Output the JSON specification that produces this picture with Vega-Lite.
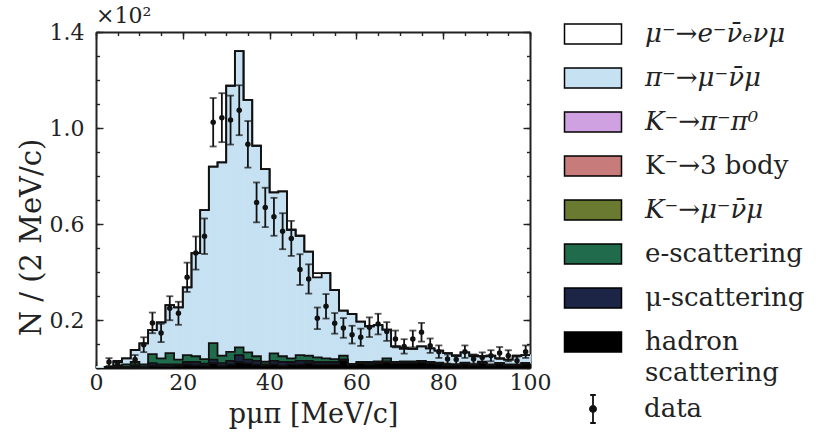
{
  "$schema": "https://vega.github.io/schema/vega-lite/v6.json",
  "width": 434,
  "height": 336,
  "autosize": "none",
  "padding": {"left": 96, "top": 32, "right": 300, "bottom": 78},
  "background": "white",
  "title": {"text": "×10²", "anchor": "start", "frame": "group", "fontSize": 22, "fontWeight": "normal", "offset": -7, "color": "#222", "font": "DejaVu Serif"},
  "config": {
    "font": "DejaVu Serif",
    "view": {"stroke": null},
    "axis": {"grid": false, "zindex": 1, "domainColor": "#222", "domainWidth": 2, "tickColor": "#222", "tickWidth": 1.4,
      "labelFont": "DejaVu Serif", "labelFontSize": 22, "labelColor": "#222", "labelFlush": false, "labelOverlap": false,
      "titleFont": "DejaVu Serif", "titleFontSize": 27, "titleFontWeight": "normal", "titleColor": "#222"},
    "legend": {"labelFont": "DejaVu Serif", "labelColor": "#222", "padding": 0}
  },
  "datasets": {
    "comps": [
      {"key": "H", "comp": "hadron scattering", "k": 1},
      {"key": "M", "comp": "μ-scattering", "k": 2},
      {"key": "E", "comp": "e-scattering", "k": 3},
      {"key": "P", "comp": "π⁻→μ⁻ν̄μ", "k": 4},
      {"key": "W", "comp": "μ⁻→e⁻ν̄ₑνμ", "k": 5}
    ],
    "hist": [
      {"x0": 0, "x1": 2, "c": 1, "H": 0.2, "M": 0, "E": 0.1, "P": 0.2, "W": 0, "d": null, "e": null},
      {"x0": 2, "x1": 4, "c": 3, "H": 0.2, "M": 0.1, "E": 0.2, "P": 0, "W": 0, "d": 2.5, "e": 1.6},
      {"x0": 4, "x1": 6, "c": 5, "H": 0.3, "M": 0.2, "E": 0.5, "P": 1.5, "W": 0.5, "d": 1.5, "e": 1.2},
      {"x0": 6, "x1": 8, "c": 7, "H": 0.3, "M": 0.2, "E": 1.0, "P": 2.5, "W": 0, "d": null, "e": null},
      {"x0": 8, "x1": 10, "c": 9, "H": 0.5, "M": 0.5, "E": 1.5, "P": 5.0, "W": 0, "d": 3.5, "e": 1.9},
      {"x0": 10, "x1": 12, "c": 11, "H": 0.5, "M": 0.2, "E": 0.8, "P": 8.8, "W": 0, "d": 9.7, "e": 3.1},
      {"x0": 12, "x1": 14, "c": 13, "H": 1.0, "M": 1.0, "E": 3.8, "P": 10.0, "W": 0, "d": 18.8, "e": 4.3},
      {"x0": 14, "x1": 16, "c": 15, "H": 0.8, "M": 0.7, "E": 2.5, "P": 15.0, "W": 0, "d": 14.6, "e": 3.8},
      {"x0": 16, "x1": 18, "c": 17, "H": 0.8, "M": 0.7, "E": 4.7, "P": 20.0, "W": 0, "d": 24.9, "e": 5.0},
      {"x0": 18, "x1": 20, "c": 19, "H": 1.0, "M": 0.5, "E": 2.0, "P": 21.8, "W": 0, "d": 22.8, "e": 4.8},
      {"x0": 20, "x1": 22, "c": 21, "H": 1.5, "M": 1.0, "E": 2.9, "P": 28.2, "W": 0, "d": 37.8, "e": 6.1},
      {"x0": 22, "x1": 24, "c": 23, "H": 1.2, "M": 1.3, "E": 2.4, "P": 43.0, "W": 0, "d": 47.9, "e": 6.9},
      {"x0": 24, "x1": 26, "c": 25, "H": 1.0, "M": 0.8, "E": 1.9, "P": 62.1, "W": 0, "d": 54.9, "e": 7.4},
      {"x0": 26, "x1": 28, "c": 27, "H": 2.0, "M": 1.5, "E": 6.9, "P": 73.5, "W": 0, "d": 102.4, "e": 10.1},
      {"x0": 28, "x1": 30, "c": 29, "H": 1.0, "M": 1.0, "E": 3.1, "P": 80.6, "W": 0, "d": 104.3, "e": 10.2},
      {"x0": 30, "x1": 32, "c": 31, "H": 1.5, "M": 1.5, "E": 3.7, "P": 110.9, "W": 0, "d": 103.3, "e": 10.2},
      {"x0": 32, "x1": 34, "c": 33, "H": 2.5, "M": 2.9, "E": 3.2, "P": 123.4, "W": 0, "d": 107.4, "e": 10.4},
      {"x0": 34, "x1": 36, "c": 35, "H": 2.0, "M": 1.5, "E": 3.0, "P": 105.2, "W": 0, "d": 93.2, "e": 9.7},
      {"x0": 36, "x1": 38, "c": 37, "H": 1.5, "M": 1.5, "E": 1.9, "P": 87.7, "W": 0, "d": 69.0, "e": 8.3},
      {"x0": 38, "x1": 40, "c": 39, "H": 1.0, "M": 0.5, "E": 1.1, "P": 80.3, "W": 0, "d": 66.9, "e": 8.2},
      {"x0": 40, "x1": 42, "c": 41, "H": 1.5, "M": 1.5, "E": 3.1, "P": 67.1, "W": 0, "d": 63.0, "e": 7.9},
      {"x0": 42, "x1": 44, "c": 43, "H": 1.0, "M": 1.5, "E": 2.4, "P": 68.7, "W": 0, "d": 57.0, "e": 7.5},
      {"x0": 44, "x1": 46, "c": 45, "H": 1.5, "M": 1.0, "E": 1.5, "P": 53.6, "W": 0, "d": 54.0, "e": 7.3},
      {"x0": 46, "x1": 48, "c": 47, "H": 1.5, "M": 1.5, "E": 2.4, "P": 49.7, "W": 0, "d": 41.0, "e": 6.4},
      {"x0": 48, "x1": 50, "c": 49, "H": 2.0, "M": 1.0, "E": 2.1, "P": 43.4, "W": 0, "d": 37.1, "e": 6.1},
      {"x0": 50, "x1": 52, "c": 51, "H": 1.5, "M": 1.0, "E": 1.9, "P": 33.4, "W": 1.7, "d": 20.7, "e": 4.5},
      {"x0": 52, "x1": 54, "c": 53, "H": 1.5, "M": 1.0, "E": 1.5, "P": 35.5, "W": 0, "d": 25.7, "e": 5.1},
      {"x0": 54, "x1": 56, "c": 55, "H": 1.5, "M": 1.0, "E": 1.2, "P": 28.8, "W": 0, "d": 18.6, "e": 4.3},
      {"x0": 56, "x1": 58, "c": 57, "H": 3.5, "M": 0, "E": 1.6, "P": 18.8, "W": 0, "d": 16.7, "e": 4.1},
      {"x0": 58, "x1": 60, "c": 59, "H": 1.5, "M": 0, "E": 0.2, "P": 20.8, "W": 0, "d": 13.9, "e": 3.7},
      {"x0": 60, "x1": 62, "c": 61, "H": 2.0, "M": 0, "E": 0.5, "P": 16.8, "W": 0, "d": 12.8, "e": 3.6},
      {"x0": 62, "x1": 64, "c": 63, "H": 1.5, "M": 0.3, "E": 0.7, "P": 14.9, "W": 0, "d": 17.0, "e": 4.1},
      {"x0": 64, "x1": 66, "c": 65, "H": 2.0, "M": 0.3, "E": 0.5, "P": 15.1, "W": 0, "d": 18.3, "e": 4.3},
      {"x0": 66, "x1": 68, "c": 67, "H": 2.5, "M": 0.3, "E": 1.2, "P": 12.0, "W": 0, "d": 15.2, "e": 3.9},
      {"x0": 68, "x1": 70, "c": 69, "H": 2.0, "M": 0.2, "E": 0.3, "P": 6.5, "W": 0, "d": 12.1, "e": 3.5},
      {"x0": 70, "x1": 72, "c": 71, "H": 2.2, "M": 0.2, "E": 0.3, "P": 5.3, "W": 0.5, "d": 9.0, "e": 3.0},
      {"x0": 72, "x1": 74, "c": 73, "H": 2.2, "M": 0.2, "E": 0.3, "P": 5.3, "W": 0, "d": 12.1, "e": 3.5},
      {"x0": 74, "x1": 76, "c": 75, "H": 2.5, "M": 0.2, "E": 0.3, "P": 6.0, "W": 0, "d": 14.9, "e": 3.9},
      {"x0": 76, "x1": 78, "c": 77, "H": 2.0, "M": 0.2, "E": 0.3, "P": 5.7, "W": 0, "d": 9.3, "e": 3.0},
      {"x0": 78, "x1": 80, "c": 79, "H": 1.8, "M": 0.2, "E": 0.2, "P": 5.0, "W": 0, "d": 6.8, "e": 2.6},
      {"x0": 80, "x1": 82, "c": 81, "H": 1.2, "M": 0.2, "E": 0.2, "P": 4.6, "W": 0, "d": 3.75, "e": 1.9},
      {"x0": 82, "x1": 84, "c": 83, "H": 1.2, "M": 0.1, "E": 0.2, "P": 3.6, "W": 0, "d": 3.5, "e": 1.9},
      {"x0": 84, "x1": 86, "c": 85, "H": 1.8, "M": 0.2, "E": 0.2, "P": 4.3, "W": 0, "d": 6.8, "e": 2.6},
      {"x0": 86, "x1": 88, "c": 87, "H": 1.2, "M": 0.1, "E": 0.2, "P": 3.4, "W": 0.5, "d": 3.75, "e": 1.9},
      {"x0": 88, "x1": 90, "c": 89, "H": 2.0, "M": 0.1, "E": 0.5, "P": 2.3, "W": 0, "d": 4.4, "e": 2.1},
      {"x0": 90, "x1": 92, "c": 91, "H": 1.2, "M": 0.1, "E": 0.2, "P": 3.6, "W": 0, "d": 5.1, "e": 2.3},
      {"x0": 92, "x1": 94, "c": 93, "H": 1.8, "M": 0.1, "E": 0.2, "P": 1.9, "W": 0, "d": 6.25, "e": 2.5},
      {"x0": 94, "x1": 96, "c": 95, "H": 1.2, "M": 0.1, "E": 0.2, "P": 2.0, "W": 0, "d": 5.1, "e": 2.3},
      {"x0": 96, "x1": 98, "c": 97, "H": 1.2, "M": 0.1, "E": 0.2, "P": 3.6, "W": 0, "d": 3.0, "e": 1.7},
      {"x0": 98, "x1": 100, "c": 99, "H": 1.8, "M": 0.1, "E": 0.2, "P": 3.3, "W": 0, "d": 6.8, "e": 2.6}
    ]
  },
  "data": {"name": "hist"},
  "resolve": {"axis": {"x": "independent", "y": "independent"}},
  "layer": [
    {
      "transform": [
        {"fold": ["H", "M", "E", "P", "W"], "as": ["key", "n"]},
        {"lookup": "key", "from": {"data": {"name": "comps"}, "key": "key", "fields": ["comp", "k"]}}
      ],
      "mark": {"type": "bar", "orient": "vertical", "strokeWidth": 0.8, "binSpacing": 0},
      "encoding": {
        "x": {"field": "x0", "type": "quantitative", "bin": "binned", "scale": {"domain": [0, 100], "nice": false, "zero": false},
          "axis": {"orient": "bottom", "values": [0, 20, 40, 60, 80, 100], "tickSize": -7, "labelPadding": 11, "title": "pμπ [MeV/c]", "titlePadding": 8}},
        "x2": {"field": "x1"},
        "y": {"field": "n", "type": "quantitative", "stack": "zero", "scale": {"domain": [0, 140], "nice": false},
          "axis": {"orient": "left", "values": [20, 60, 100, 140], "tickSize": -7, "labelPadding": 19, "labelExpr": "format(datum.value / 100, '.1f')", "title": "N / (2 MeV/c)", "titleFontSize": 29, "titlePadding": 3, "titleY": 205}},
        "order": {"field": "k", "type": "quantitative"},
        "stroke": {"field": "key", "type": "nominal", "legend": null,
          "scale": {"domain": ["W", "P", "E", "M", "H"], "range": ["#ffffff", "#c6e2f2", "#1f6b4b", "#1c2546", "#000000"]}
        },
        "color": {"field": "comp", "type": "nominal",
          "scale": {
            "domain": ["μ⁻→e⁻ν̄ₑνμ", "π⁻→μ⁻ν̄μ", "K⁻→π⁻π⁰", "K⁻→3 body", "K⁻→μ⁻ν̄μ", "e-scattering", "μ-scattering", "hadron scattering"],
            "range": ["#ffffff", "#c6e2f2", "#cfa1e0", "#c87b7b", "#6a7b31", "#1f6b4b", "#1c2546", "#000000"]
          },
          "legend": {
            "orient": "none", "legendX": 484, "legendY": -11, "title": null,
            "symbolType": "M-2.85,-1H2.85V1H-2.85Z", "symbolSize": 400,
            "symbolStrokeColor": "#000", "symbolStrokeWidth": 1.5,
            "labelFontSize": 26, "labelOffset": 39, "labelLimit": 400, "rowPadding": 18,
            "labelExpr": "datum.label == 'hadron scattering' ? ['hadron', 'scattering'] : datum.label",
            "encode": {
              "symbols": {"update": {"stroke": {"value": "#000"}, "strokeWidth": {"value": 1.5}, "opacity": {"value": 1}}},
              "labels": {"update": {"lineHeight": {"value": 31},
                "fontStyle": {"signal": "indexof(['μ⁻→e⁻ν̄ₑνμ', 'π⁻→μ⁻ν̄μ', 'K⁻→π⁻π⁰', 'K⁻→μ⁻ν̄μ'], datum.label) >= 0 ? 'italic' : 'normal'"}}}
            }
          }
        }
      }
    },
    {
      "transform": [
        {"fold": ["H", "M", "E", "P", "W"], "as": ["key", "n"]},
        {"lookup": "key", "from": {"data": {"name": "comps"}, "key": "key", "fields": ["comp", "k"]}}
      ],
      "mark": {"type": "line", "interpolate": "step-before", "color": "#111", "strokeWidth": 1.8},
      "encoding": {
        "x": {"field": "x1", "type": "quantitative", "scale": {"domain": [0, 100], "nice": false, "zero": false},
          "axis": {"orient": "top", "values": [0, 20, 40, 60, 80, 100], "tickSize": -7, "labels": false, "title": null}},
        "y": {"field": "n", "type": "quantitative", "stack": "zero", "scale": {"domain": [0, 140], "nice": false},
          "axis": {"orient": "right", "values": [20, 60, 100, 140], "tickSize": -7, "labels": false, "title": null}},
        "detail": {"field": "comp", "type": "nominal"},
        "order": {"field": "k", "type": "quantitative"}
      }
    },
    {
      "transform": [{"filter": "isValid(datum.d)"}],
      "mark": {"type": "errorbar", "ticks": true, "size": 7, "thickness": 1.8, "color": "#111"},
      "encoding": {
        "x": {"field": "c", "type": "quantitative", "scale": {"domain": [0, 100], "nice": false, "zero": false},
          "axis": {"orient": "top", "values": [0, 5, 10, 15, 20, 25, 30, 35, 40, 45, 50, 55, 60, 65, 70, 75, 80, 85, 90, 95, 100], "tickSize": -3.5, "labels": false, "domain": false, "title": null}},
        "y": {"field": "d", "type": "quantitative", "scale": {"domain": [0, 140], "nice": false},
          "axis": {"orient": "right", "values": [0, 10, 20, 30, 40, 50, 60, 70, 80, 90, 100, 110, 120, 130, 140], "tickSize": -3.5, "labels": false, "domain": false, "title": null}},
        "yError": {"field": "e"}
      }
    },
    {
      "transform": [{"filter": "isValid(datum.d)"}],
      "mark": {"type": "point", "filled": true, "size": 30, "opacity": 1},
      "encoding": {
        "x": {"field": "c", "type": "quantitative", "scale": {"domain": [0, 100], "nice": false, "zero": false},
          "axis": {"orient": "bottom", "values": [0, 5, 10, 15, 20, 25, 30, 35, 40, 45, 50, 55, 60, 65, 70, 75, 80, 85, 90, 95, 100], "tickSize": -3.5, "labels": false, "domain": false, "title": null}},
        "y": {"field": "d", "type": "quantitative", "scale": {"domain": [0, 140], "nice": false},
          "axis": {"orient": "left", "values": [0, 10, 20, 30, 40, 50, 60, 70, 80, 90, 100, 110, 120, 130, 140], "tickSize": -3.5, "labels": false, "domain": false, "title": null}},
        "fill": {"datum": "data", "type": "nominal", "scale": {"range": ["#111"]},
          "legend": {
            "orient": "none", "legendX": 482, "legendY": 362, "title": null,
            "symbolType": "M0,-1V1M-0.2,-1H0.2M-0.2,1H0.2M0.22,0A0.22,0.22 0 1 1 -0.22,0A0.22,0.22 0 1 1 0.22,0Z",
            "symbolSize": 784, "symbolStrokeColor": "#111", "symbolStrokeWidth": 1.8, "symbolOpacity": 1,
            "labelFontSize": 26, "labelOffset": 36,
            "encode": {"symbols": {"update": {"stroke": {"value": "#111"}, "strokeWidth": {"value": 1.8}, "strokeOpacity": {"value": 1}, "fill": {"value": "#111"}, "opacity": {"value": 1}, "size": {"value": 784}, "shape": {"value": "M0,-1V1M-0.2,-1H0.2M-0.2,1H0.2M0.22,0A0.22,0.22 0 1 1 -0.22,0A0.22,0.22 0 1 1 0.22,0Z"}}}}
          }
        }
      }
    }
  ]
}
